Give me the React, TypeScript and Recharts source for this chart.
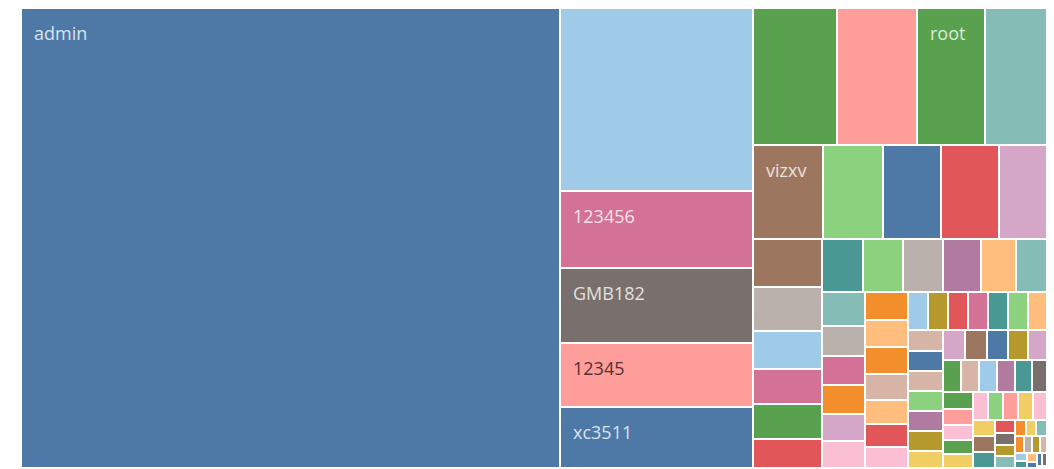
import React from 'react';
import { Treemap } from 'recharts';

// Login attempts by password (Tableau-style treemap)
const labels = ['admin', '', '123456', 'GMB182', '12345', 'xc3511', '', '', 'root', '', 'vizxv'];

const counts = [
  246700,
  // second column
  35228, 14726, 14438, 12320, 11646,
  // right-hand block, strip by strip
  11466, 10852, 9282, 8531,
  6545, 5657, 5470, 5470, 4348,
  3278, 3002, 2622, 2398, 2398, 2105,
  2149, 2122, 2096, 2016, 1856, 1697,
  1440, 1290, 1260, 1250, 1170, 1040,
  1197, 1176, 1176, 1113, 1008, 966, 880,
  750, 748, 747, 746, 745, 744, 744,
  715, 710, 705, 690, 690, 680, 670,
  655, 650, 640, 600, 590,
  580, 575, 565, 560, 555, 500,
  500, 470, 460, 430, 425,
  420, 415, 410, 405, 400,
  360, 350, 330,
  250, 245, 225, 215,
  170, 165, 160, 160,
  135, 130, 125,
  95, 90, 85, 70, 65, 60, 55, 45, 40, 35, 30, 25, 20, 15, 12,
];

const colors = [
  '#4E79A7',
  '#A0CBE8', '#D37295', '#79706E', '#FF9D9A', '#4E79A7',
  '#59A14F', '#FF9D9A', '#59A14F', '#86BCB6',
  '#9D7660', '#8CD17D', '#4E79A7', '#E15759', '#D4A6C8',
  '#9D7660', '#BAB0AC', '#A0CBE8', '#D37295', '#59A14F', '#E15759',
  '#499894', '#8CD17D', '#BAB0AC', '#B07AA1', '#FFBE7D', '#86BCB6',
  '#86BCB6', '#BAB0AC', '#D37295', '#F28E2B', '#D4A6C8', '#FABFD2',
  '#F28E2B', '#FFBE7D', '#F28E2B', '#D7B5A6', '#FFBE7D', '#E15759', '#FABFD2',
  '#A0CBE8', '#B6992D', '#E15759', '#D37295', '#499894', '#8CD17D', '#FFBE7D',
  '#D7B5A6', '#4E79A7', '#D7B5A6', '#8CD17D', '#B07AA1', '#B6992D', '#F1CE63',
  '#D4A6C8', '#9D7660', '#4E79A7', '#B6992D', '#D4A6C8',
  '#59A14F', '#D7B5A6', '#A0CBE8', '#B07AA1', '#499894', '#79706E',
  '#59A14F', '#FF9D9A', '#FABFD2', '#59A14F', '#F1CE63',
  '#FABFD2', '#8CD17D', '#FF9D9A', '#F1CE63', '#FABFD2',
  '#F1CE63', '#9D7660', '#499894',
  '#E15759', '#79706E', '#B6992D', '#86BCB6',
  '#F28E2B', '#F1CE63', '#86BCB6', '#F28E2B',
  '#BAB0AC', '#B6992D', '#D7B5A6',
  '#A0CBE8', '#499894', '#FFBE7D', '#4E79A7', '#4E79A7', '#79706E', '#FABFD2', '#B07AA1',
  '#BAB0AC', '#79706E', '#D37295', '#D7B5A6', '#4E79A7', '#BAB0AC', '#FABFD2',
];

const cells = counts.map((size, i) => ({
  name: labels[i] || '',
  size,
  color: colors[i],
}));

// blend a hex colour toward white (1) or black (0)
const mix = (hex: string, target: number, t: number) => {
  const n = parseInt(hex.slice(1), 16);
  const ch = [(n >> 16) & 255, (n >> 8) & 255, n & 255].map((c) =>
    Math.round(c + (target * 255 - c) * t)
  );
  return `rgb(${ch.join(',')})`;
};

const isLight = (hex: string) => {
  const n = parseInt(hex.slice(1), 16);
  const l = 0.299 * ((n >> 16) & 255) + 0.587 * ((n >> 8) & 255) + 0.114 * (n & 255);
  return l > 170;
};

const CellContent = (props: any) => {
  const { x, y, width, height, depth, index, name } = props;
  if (depth !== 1) return null;
  const fill = props.color || colors[index];
  const textFill = isLight(fill) ? mix(fill, 0, 0.68) : mix(fill, 1, 0.78);
  return (
    <g>
      <rect
        x={x}
        y={y}
        width={width}
        height={height}
        fill={fill}
        stroke="#fff"
        strokeWidth={2}
      />
      {name && width > 50 && height > 40 ? (
        <text
          x={x + 13}
          y={y + 32}
          fill={textFill}
          stroke="none"
          style={{ fontFamily: '"Open Sans", sans-serif', fontSize: '18px' }}
        >
          {name}
        </text>
      ) : null}
    </g>
  );
};

export default function App() {
  return (
    <div style={{ marginLeft: 13, width: 1026, height: 460 }}>
      <Treemap
        width={1026}
        height={460}
        data={cells}
        dataKey="size"
        nameKey="name"
        aspectRatio={1.65}
        isAnimationActive={false}
        content={<CellContent />}
      />
    </div>
  );
}
